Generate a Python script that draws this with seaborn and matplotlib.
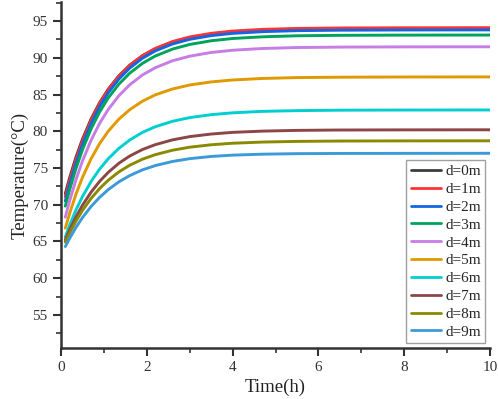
import pandas as pd
import numpy as np
import matplotlib.pyplot as plt
import seaborn as sns

# time points (h)
time = [0.1, 0.2, 0.35, 0.5, 0.7, 0.9, 1.1, 1.35, 1.6, 1.9, 2.2, 2.6, 3.0, 3.5, 4.0, 4.7, 5.5, 6.5, 8.0, 10.0]

# temperatures, one list per depth
d0 = [71.5, 73.64, 76.48, 78.92, 81.65, 83.89, 85.72, 87.55, 88.98, 90.28, 91.24, 92.15, 92.76, 93.25, 93.55, 93.77, 93.90, 93.96, 93.99, 94.0]
d1 = [71.1, 73.29, 76.19, 78.68, 81.48, 83.77, 85.64, 87.51, 88.97, 90.30, 91.28, 92.21, 92.84, 93.33, 93.64, 93.87, 94.00, 94.06, 94.09, 94.1]
d2 = [70.5, 72.72, 75.65, 78.18, 81.01, 83.33, 85.23, 87.12, 88.60, 89.95, 90.95, 91.89, 92.52, 93.02, 93.33, 93.56, 93.70, 93.76, 93.79, 93.8]
d3 = [69.8, 72.02, 74.95, 77.48, 80.31, 82.63, 84.53, 86.42, 87.90, 89.25, 90.25, 91.19, 91.82, 92.32, 92.63, 92.86, 93.00, 93.06, 93.09, 93.1]
d4 = [68.3, 70.51, 73.43, 75.95, 78.77, 81.08, 82.96, 84.85, 86.32, 87.67, 88.66, 89.60, 90.22, 90.73, 91.03, 91.27, 91.40, 91.46, 91.49, 91.5]
d5 = [66.8, 68.80, 71.45, 73.72, 76.25, 78.32, 80.00, 81.66, 82.93, 84.10, 84.96, 85.76, 86.30, 86.72, 86.98, 87.19, 87.31, 87.36, 87.39, 87.4]
d6 = [65.6, 67.20, 69.30, 71.10, 73.15, 74.85, 76.25, 77.68, 78.80, 79.85, 80.62, 81.36, 81.86, 82.26, 82.51, 82.71, 82.81, 82.87, 82.89, 82.9]
d7 = [65.2, 66.55, 68.35, 69.92, 71.70, 73.18, 74.40, 75.65, 76.62, 77.52, 78.18, 78.83, 79.27, 79.62, 79.85, 80.02, 80.12, 80.17, 80.19, 80.2]
d8 = [64.9, 66.12, 67.78, 69.22, 70.85, 72.20, 73.33, 74.47, 75.37, 76.20, 76.82, 77.42, 77.83, 78.16, 78.37, 78.53, 78.62, 78.67, 78.69, 78.7]
d9 = [64.3, 65.40, 66.92, 68.24, 69.75, 71.00, 72.05, 73.12, 73.96, 74.75, 75.33, 75.89, 76.27, 76.57, 76.75, 76.88, 76.95, 76.98, 76.99, 77.0]

labels = ['d=0m', 'd=1m', 'd=2m', 'd=3m', 'd=4m', 'd=5m', 'd=6m', 'd=7m', 'd=8m', 'd=9m']
colors = ['#3c3c3c', '#ff3333', '#1466e0', '#00a35c', '#c77ce6',
          '#e09a00', '#00cfcf', '#8c4646', '#8a8a00', '#3d9ad9']

series = [d0, d1, d2, d3, d4, d5, d6, d7, d8, d9]
df = pd.concat([pd.DataFrame({'Time': time, 'Temperature': s, 'Depth': lab})
                for s, lab in zip(series, labels)], ignore_index=True)

sns.set_style('ticks')
plt.rcParams['font.family'] = ['Liberation Serif', 'DejaVu Serif']

fig = plt.figure(figsize=(4.98, 3.99), dpi=100)
ax = fig.add_axes([0.1225, 0.128, 0.8615, 0.867])

sns.lineplot(data=df, x='Time', y='Temperature', hue='Depth', hue_order=labels,
             palette=colors, linewidth=2.1, ax=ax, estimator=None, sort=False)

ax.set_xlim(0, 10)
ax.set_ylim(50.5, 97.6)
ax.set_xticks([0, 2, 4, 6, 8, 10])
ax.set_yticks([55, 60, 65, 70, 75, 80, 85, 90, 95])
ax.set_xticks(np.arange(1, 10, 2), minor=True)
ax.set_yticks(np.arange(52.5, 97.6, 5), minor=True)
ax.tick_params(which='major', length=6, width=1.5, colors='#333333', labelsize=11,
               labelcolor='#333333')
ax.tick_params(which='minor', length=3.5, width=1.2, colors='#333333')
for side in ['left', 'bottom']:
    ax.spines[side].set_linewidth(1.8)
    ax.spines[side].set_color('#333333')
sns.despine(ax=ax)

ax.set_xlabel('Time(h)', fontsize=13.5, color='#222222', labelpad=3)
ax.set_ylabel('Temperature(°C)', fontsize=13.5, color='#222222', labelpad=3)

leg = ax.legend(loc='lower right', fontsize=11, frameon=True, fancybox=False,
                handlelength=1.95, handletextpad=0.3, labelspacing=0.27,
                borderpad=0.3, borderaxespad=0.3)
leg.get_frame().set_edgecolor('#888888')
leg.get_frame().set_linewidth(1.0)
for line in leg.get_lines():
    line.set_linewidth(2)

fig.savefig('out.png', dpi=100)
